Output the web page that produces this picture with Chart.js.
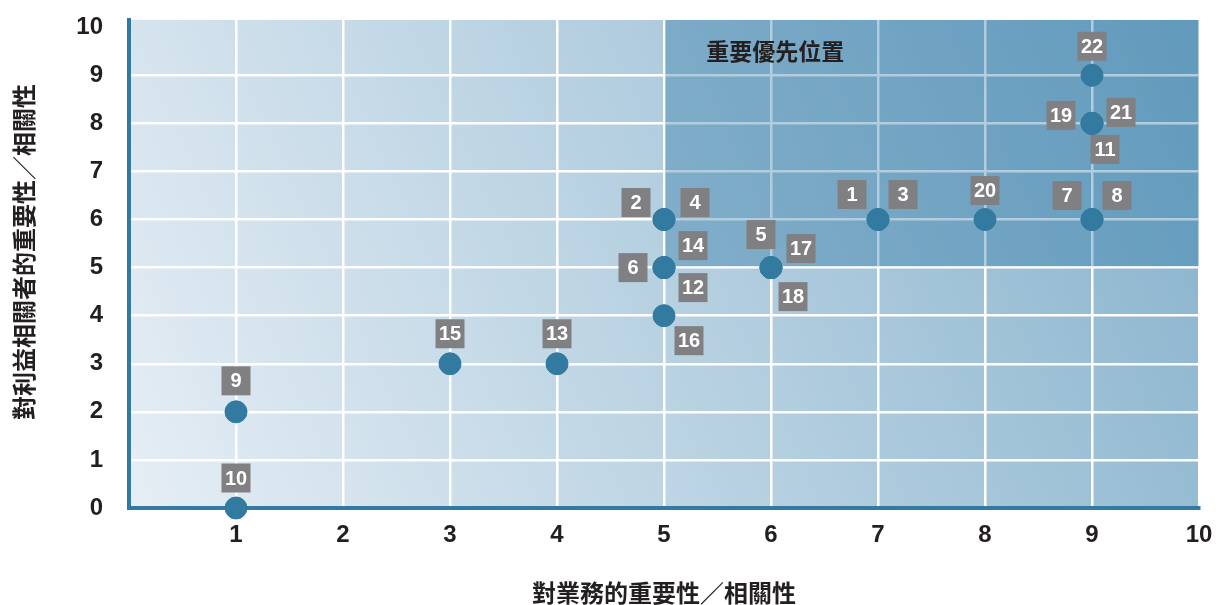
<!DOCTYPE html>
<html>
<head>
<meta charset="utf-8">
<script src="https://cdn.jsdelivr.net/npm/chart.js@4/dist/chart.umd.min.js"></script>
<style>
  html, body { margin: 0; padding: 0; background: #fff; }
  #wrap { width: 1219px; height: 605px; }
</style>
</head>
<body>
<div id="wrap"><canvas id="matrix"></canvas></div>
<script>
// 議題編號與評分
const itemLabels = ['1','2','3','4','5','6','7','8','9','10','11','12','13','14','15','16','17','18','19','20','21','22'];
const businessScores    = [7, 5, 7, 5, 6, 5, 9, 9, 1, 1, 9, 5, 4, 5, 3, 5, 6, 6, 9, 8, 9, 9];
const stakeholderScores = [6, 6, 6, 6, 5, 5, 6, 6, 2, 0, 8, 5, 3, 5, 3, 4, 5, 5, 8, 6, 8, 9];
const xTicks = [1, 2, 3, 4, 5, 6, 7, 8, 9, 10];
const yTicks = [0, 1, 2, 3, 4, 5, 6, 7, 8, 9, 10];
const priorityFrom = { x: 5, y: 5 };
const priorityText = '重要優先位置';

// 標籤相對於圓點的位置 (px)
const labelOffsets = [
  [-26, -25], [-28, -17], [25, -25], [31, -17], [-10, -33], [-31, 0],
  [-25, -24], [25, -24], [0, -31], [0, -30], [13, 26], [29, 20],
  [0, -30], [29, -22], [0, -30], [25, 25], [30, -19], [22, 29],
  [-31, -8], [0, -29], [29, -11], [0, -29]
];

const points = businessScores.map((x, i) => ({ x: x, y: stakeholderScores[i] }));

const backgroundPlugin = {
  id: 'backgroundPlugin',
  beforeDraw(chart) {
    const { ctx, chartArea: a } = chart;
    const g = ctx.createLinearGradient(a.left, a.bottom, a.right, a.top);
    g.addColorStop(0, '#e6eef5');
    g.addColorStop(1, '#86b2cc');
    ctx.save();
    ctx.fillStyle = g;
    ctx.fillRect(a.left, a.top, a.right - a.left, a.bottom - a.top);
    ctx.restore();
  }
};

const zonePlugin = {
  id: 'zonePlugin',
  beforeDatasetsDraw(chart) {
    const { ctx, chartArea: a, scales } = chart;
    const x0 = scales.x.getPixelForValue(priorityFrom.x) + 1.25;
    const y0 = scales.y.getPixelForValue(priorityFrom.y) - 1.25;
    ctx.save();
    ctx.fillStyle = 'rgba(30, 108, 158, 0.34)';
    ctx.fillRect(x0, a.top, a.right - x0, y0 - a.top);
    ctx.restore();
  }
};

const labelPlugin = {
  id: 'labelPlugin',
  afterDatasetsDraw(chart) {
    const { ctx, scales } = chart;
    const size = 29;
    ctx.save();
    ctx.font = 'bold 20px "Liberation Sans", Arial, sans-serif';
    ctx.textAlign = 'center';
    ctx.textBaseline = 'middle';
    points.forEach((p, i) => {
      const cx = scales.x.getPixelForValue(p.x) + labelOffsets[i][0];
      const cy = scales.y.getPixelForValue(p.y) + labelOffsets[i][1];
      ctx.fillStyle = '#808083';
      ctx.fillRect(cx - size / 2, cy - size / 2, size, size);
      ctx.fillStyle = '#ffffff';
      ctx.fillText(itemLabels[i], cx, cy + 1);
    });
    // 重要優先位置
    ctx.font = 'bold 23px "Noto Sans CJK TC", sans-serif';
    ctx.fillStyle = '#231f20';
    ctx.fillText(priorityText, scales.x.getPixelForValue(6.04), scales.y.getPixelForValue(9.5));
    ctx.restore();
  }
};

const tickFont = { family: '"Liberation Sans", Arial, sans-serif', size: 24, weight: 'bold' };
const titleFont = { family: '"Noto Sans CJK TC", sans-serif', size: 24, weight: 'bold', lineHeight: 1 };

new Chart(document.getElementById('matrix'), {
  type: 'scatter',
  data: {
    datasets: [{
      data: points,
      backgroundColor: '#337aa0',
      borderColor: '#337aa0',
      pointRadius: 11,
      pointHoverRadius: 11,
      clip: false
    }]
  },
  options: {
    responsive: true,
    maintainAspectRatio: false,
    animation: false,
    layout: { padding: { top: 20, right: 20, left: 0, bottom: 0 } },
    plugins: {
      legend: { display: false },
      tooltip: { enabled: false }
    },
    scales: {
      x: {
        type: 'linear',
        min: 0,
        max: 10,
        afterBuildTicks: axis => { axis.ticks = xTicks.map(v => ({ value: v })); },
        afterFit: axis => {
          axis.height = 97;
          axis.paddingLeft = 0;
          axis.paddingRight = 0;
        },
        grid: { color: '#ffffff', lineWidth: 2.5, drawTicks: false },
        border: { color: '#337aa0', width: 4 },
        ticks: { font: tickFont, color: '#231f20', padding: 13 },
        title: {
          display: true,
          text: '對業務的重要性／相關性',
          font: titleFont,
          color: '#231f20',
          padding: { top: 0, bottom: 0 }
        }
      },
      y: {
        type: 'linear',
        min: 0,
        max: 10.15,
        afterBuildTicks: axis => { axis.ticks = yTicks.map(v => ({ value: v })); },
        afterFit: axis => {
          axis.width = 129;
          axis.paddingTop = 0;
          axis.paddingBottom = 0;
        },
        grid: {
          color: ctx => (ctx.tick && ctx.tick.value === 10) ? 'rgba(0,0,0,0)' : '#ffffff',
          lineWidth: 2.5,
          drawTicks: false
        },
        border: { color: '#337aa0', width: 4 },
        ticks: { font: tickFont, color: '#231f20', padding: 26 },
        title: {
          display: true,
          text: '　對利益相關者的重要性／相關性',
          font: titleFont,
          color: '#231f20',
          padding: { top: 12, bottom: 0 }
        }
      }
    }
  },
  plugins: [backgroundPlugin, zonePlugin, labelPlugin]
});
</script>
</body>
</html>
